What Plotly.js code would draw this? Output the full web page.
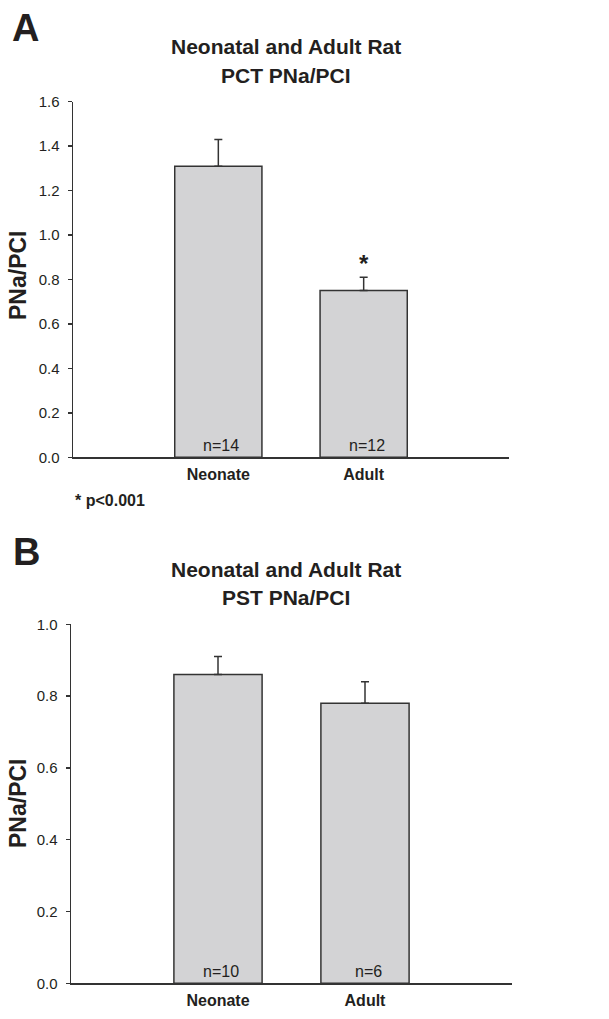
<!DOCTYPE html>
<html>
<head>
<meta charset="utf-8">
<script src="https://cdn.plot.ly/plotly-3.0.1.min.js"></script>
<style>html,body{margin:0;padding:0;background:#fff}#chart{width:609px;height:1019px}</style>
</head>
<body>
<div id="chart"></div>
<script>
// ---- data ----
const categories = ['Neonate', 'Adult'];
const pctMeans = [1.31, 0.75];
const pctErr = [0.12, 0.06];
const pctN = [14, 12];
const pstMeans = [0.86, 0.78];
const pstErr = [0.05, 0.06];
const pstN = [10, 6];
const pctTitle = ['Neonatal and Adult Rat', 'PCT PNa/PCI'];
const pstTitle = ['Neonatal and Adult Rat', 'PST PNa/PCI'];
const yTitle = 'PNa/PCI';
const sigMark = ['', '*'];
const sigNote = '* p<0.001';

// ---- style ----
const FONT = 'Liberation Sans, Arial, Helvetica, sans-serif';
const INK = '#231f20';
const LINE = '#333333';
const FILL = '#d3d3d5';
const xpos = categories.map((_, i) => i);

function barTrace(means, err, xa, ya) {
  return {
    type: 'bar', x: xpos, y: means, xaxis: xa, yaxis: ya, width: 0.6,
    marker: {color: FILL, line: {color: LINE, width: 1.5}},
    error_y: {type: 'data', symmetric: false, array: err, arrayminus: err.map(() => 0),
              color: LINE, thickness: 1.5, width: 4},
    hoverinfo: 'skip', showlegend: false
  };
}

const data = [
  barTrace(pctMeans, pctErr, 'x', 'y'),
  barTrace(pstMeans, pstErr, 'x2', 'y2')
];

function xAxis(domain, anchor) {
  return {
    domain: domain, anchor: anchor, range: [-1, 2], showline: true, linecolor: LINE, linewidth: 1.5,
    showgrid: false, zeroline: false, ticks: '', tickvals: xpos,
    ticktext: categories.map(c => '<b>' + c + '</b>'),
    tickfont: {family: FONT, size: 16, color: INK}, ticklabelstandoff: 2, fixedrange: true
  };
}
function yAxis(domain, anchor, range) {
  return {
    domain: domain, anchor: anchor, range: range, dtick: 0.2, tickformat: '.1f',
    showline: true, linecolor: LINE, linewidth: 1.5, showgrid: false, zeroline: false,
    ticks: 'outside', ticklen: 4, tickwidth: 1.5, tickcolor: LINE,
    tickfont: {family: FONT, size: 15, color: INK}, ticklabelstandoff: 5, fixedrange: true
  };
}

const annotations = [];
function addPanel(letter, title, means, err, nvals, xa, ya, cfg) {
  annotations.push({xref: 'paper', yref: 'paper', x: cfg.letterX, y: cfg.letterY, xanchor: 'left', yanchor: 'middle',
    text: '<b>' + letter + '</b>', showarrow: false, font: {family: FONT, size: 38, color: INK}});
  title.forEach((t, i) => annotations.push({xref: 'paper', yref: 'paper', x: cfg.titleX, y: cfg.titleY[i],
    xanchor: 'center', yanchor: 'middle', text: '<b>' + t + '</b>', showarrow: false,
    font: {family: FONT, size: 21, color: INK}}));
  annotations.push({xref: 'paper', yref: 'paper', x: cfg.yTitleX, y: cfg.yTitleY, xanchor: 'center', yanchor: 'middle',
    textangle: -90, text: '<b>' + yTitle + '</b>', showarrow: false, font: {family: FONT, size: 23, color: INK}});
  xpos.forEach((xp, i) => {
    annotations.push({xref: xa, yref: ya, x: xp, y: 0, xanchor: 'center', yanchor: 'bottom', yshift: 1, xshift: 3,
      text: 'n=' + nvals[i], showarrow: false, font: {family: FONT, size: 16, color: INK}});
  });
}

addPanel('A', pctTitle, pctMeans, pctErr, pctN, 'x', 'y', {
  letterX: 10 / 609, letterY: 1 - 28 / 1019, titleX: 286 / 609, titleY: [1 - 47 / 1019, 1 - 75 / 1019],
  yTitleX: 18 / 609, yTitleY: 1 - 276 / 1019
});
addPanel('B', pstTitle, pstMeans, pstErr, pstN, 'x2', 'y2', {
  letterX: 11 / 609, letterY: 1 - 552 / 1019, titleX: 286 / 609, titleY: [1 - 569 / 1019, 1 - 597 / 1019],
  yTitleX: 18 / 609, yTitleY: 1 - 804 / 1019
});
// significance markers (panel A)
xpos.forEach((xp, i) => {
  if (sigMark[i]) annotations.push({xref: 'x', yref: 'y', x: xp, y: pctMeans[i] + pctErr[i], xanchor: 'center',
    yanchor: 'bottom', yshift: -2, text: '<b>' + sigMark[i] + '</b>', showarrow: false,
    font: {family: FONT, size: 24, color: INK}});
});
annotations.push({xref: 'paper', yref: 'paper', x: 73 / 609, y: 1 - 500 / 1019, xanchor: 'left', yanchor: 'middle',
  text: '<b>' + sigNote + '</b>', showarrow: false, font: {family: FONT, size: 16, color: INK}});

const layout = {
  width: 609, height: 1019, margin: {l: 0, r: 0, t: 0, b: 0},
  paper_bgcolor: '#ffffff', plot_bgcolor: '#ffffff', showlegend: false,
  xaxis: xAxis([73 / 609, 509 / 609], 'y'),
  yaxis: yAxis([1 - 457.3 / 1019, 1 - 101.7 / 1019], 'x', [0, 1.6]),
  xaxis2: xAxis([71 / 609, 512 / 609], 'y2'),
  yaxis2: yAxis([1 - 983.3 / 1019, 1 - 624.3 / 1019], 'x2', [0, 1.0]),
  annotations: annotations
};

Plotly.newPlot('chart', data, layout, {displayModeBar: false, staticPlot: true});
</script>
</body>
</html>
